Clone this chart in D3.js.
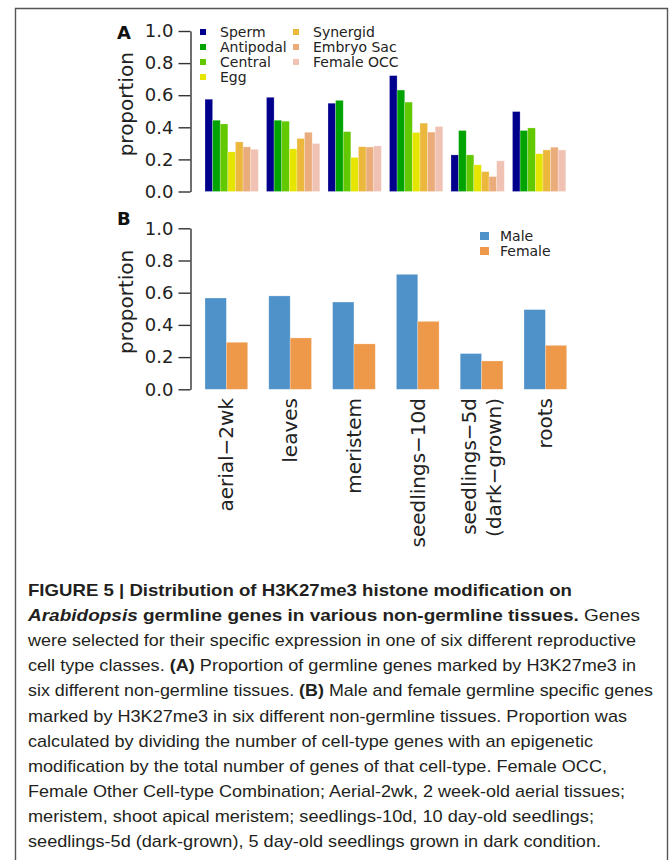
<!DOCTYPE html>
<html>
<head>
<meta charset="utf-8">
<script src="https://cdn.jsdelivr.net/npm/d3@7"></script>
<style>
  html, body { margin: 0; padding: 0; background: #fff; }
  svg { display: block; }
</style>
</head>
<body>
<script>
// ---------- DATA ----------
const tissues = ["aerial−2wk", "leaves", "meristem", "seedlings−10d", "seedlings−5d (dark−grown)", "roots"];
const tissueLabelLines = [["aerial−2wk"], ["leaves"], ["meristem"], ["seedlings−10d"], ["seedlings−5d", "(dark−grown)"], ["roots"]];

const cellTypes = ["Sperm", "Antipodal", "Central", "Egg", "Synergid", "Embryo Sac", "Female OCC"];
const sperm     = [0.575, 0.587, 0.550, 0.722, 0.228, 0.498];
const antipodal = [0.444, 0.444, 0.568, 0.632, 0.380, 0.380];
const central   = [0.421, 0.438, 0.373, 0.557, 0.228, 0.396];
const egg       = [0.247, 0.266, 0.212, 0.368, 0.166, 0.235];
const synergid  = [0.309, 0.330, 0.279, 0.426, 0.124, 0.259];
const embryoSac = [0.278, 0.369, 0.277, 0.370, 0.093, 0.276];
const femaleOCC = [0.263, 0.299, 0.284, 0.405, 0.191, 0.259];
const cellColors = ["#00008c", "#00a300", "#62c800", "#e5e500", "#ebb73c", "#eaac7a", "#f0c2b4"];

const sexes = ["Male", "Female"];
const male   = [0.567, 0.580, 0.542, 0.714, 0.222, 0.495];
const female = [0.292, 0.319, 0.282, 0.422, 0.176, 0.273];
const sexColors = ["#4f91c9", "#ee9949"];

const yTicks = [0.0, 0.2, 0.4, 0.6, 0.8, 1.0];
const yLabel = "proportion";

const captionLines = [
  [["FIGURE 5 | Distribution of H3K27me3 histone modification on", "b"]],
  [["Arabidopsis", "bi"], [" germline genes in various non-germline tissues.", "b"], [" Genes", "n"]],
  [["were selected for their specific expression in one of six different reproductive", "n"]],
  [["cell type classes. ", "n"], ["(A)", "b"], [" Proportion of germline genes marked by H3K27me3 in", "n"]],
  [["six different non-germline tissues. ", "n"], ["(B)", "b"], [" Male and female germline specific genes", "n"]],
  [["marked by H3K27me3 in six different non-germline tissues. Proportion was", "n"]],
  [["calculated by dividing the number of cell-type genes with an epigenetic", "n"]],
  [["modification by the total number of genes of that cell-type. Female OCC,", "n"]],
  [["Female Other Cell-type Combination; Aerial-2wk, 2 week-old aerial tissues;", "n"]],
  [["meristem, shoot apical meristem; seedlings-10d, 10 day-old seedlings;", "n"]],
  [["seedlings-5d (dark-grown), 5 day-old seedlings grown in dark condition.", "n"]]
];
const captionLineEnds = [572, 640, 636, 636, 653, 627, 593, 607, 625, 594, 601];

// ---------- DRAWING ----------
const W = 669, H = 860;
const svg = d3.select("body").append("svg").attr("width", W).attr("height", H);
const FONT = "'DejaVu Sans', sans-serif";
const ink = "#222";

// frame
svg.append("path")
  .attr("d", `M15.5,${H} V8.5 H667.5 V${H}`)
  .attr("fill", "none").attr("stroke", "#555").attr("stroke-width", 1.4);

const seriesA = [sperm, antipodal, central, egg, synergid, embryoSac, femaleOCC];
const seriesB = [male, female];

function drawPanel(cfg) {
  const g = svg.append("g");
  const y = d3.scaleLinear().domain([0, 1]).range([cfg.y0, cfg.y1]);
  const x = d3.scaleBand().domain(tissues).range([205, cfg.xEnd]).paddingInner(cfg.padInner).paddingOuter(0);
  const xs = d3.scaleBand().domain(cfg.keys).range([0, x.bandwidth()]).padding(0);

  // bars
  cfg.series.forEach((vals, si) => {
    g.append("g").selectAll("rect").data(vals).join("rect")
      .attr("x", (d, i) => x(tissues[i]) + xs(cfg.keys[si]))
      .attr("y", d => y(d))
      .attr("width", xs.bandwidth())
      .attr("height", d => y(0) - y(d))
      .attr("fill", cfg.colors[si])
      .attr("stroke", "#fff").attr("stroke-opacity", 0.35).attr("stroke-width", 0.7);
  });

  // y axis
  const axis = d3.axisLeft(y).tickValues(yTicks).tickFormat(d3.format(".1f")).tickSize(12).tickPadding(5).tickSizeOuter(0);
  const ag = g.append("g").attr("transform", "translate(190.5,0)").call(axis);
  ag.select(".domain").attr("stroke", "#333").attr("stroke-width", 1.4);
  ag.selectAll(".tick line").attr("stroke", "#333").attr("stroke-width", 1.4);
  ag.selectAll(".tick text").attr("font-family", FONT).attr("font-size", 18).attr("fill", ink);

  // y label
  g.append("text")
    .attr("transform", `translate(133,${(cfg.y0 + cfg.y1) / 2 - 7}) rotate(-90)`)
    .attr("text-anchor", "middle")
    .attr("font-family", FONT).attr("font-size", 20).attr("fill", ink)
    .text(yLabel);

  // panel letter
  g.append("text").attr("x", 117).attr("y", cfg.letterY)
    .attr("font-family", FONT).attr("font-weight", "bold").attr("font-size", 18).attr("fill", "#111")
    .text(cfg.letter);

  return { g, x, y };
}

// Panel A
const pA = drawPanel({
  y0: 191.5, y1: 31, xEnd: 565.8, padInner: 0.133,
  keys: cellTypes, series: seriesA, colors: cellColors, letter: "A", letterY: 38.5
});
// legend A
const legA = svg.append("g");
cellTypes.forEach((c, i) => {
  const col = i < 4 ? 0 : 1;
  const row = i < 4 ? i : i - 4;
  const mx = col === 0 ? 200 : 293;
  const cy = 32 + row * 15;
  legA.append("rect").attr("x", mx).attr("y", cy - 3).attr("width", 6).attr("height", 6).attr("fill", cellColors[i]);
  legA.append("text").attr("x", mx + 20).attr("y", cy + 5)
    .attr("font-family", FONT).attr("font-size", 14).attr("fill", ink).text(c);
});

// Panel B
const pB = drawPanel({
  y0: 389.3, y1: 228.3, xEnd: 566.7, padInner: 0.331,
  keys: sexes, series: seriesB, colors: sexColors, letter: "B", letterY: 225
});
// legend B
const legB = svg.append("g");
sexes.forEach((s, i) => {
  const cy = 236 + i * 15;
  legB.append("rect").attr("x", 480).attr("y", cy - 4).attr("width", 9).attr("height", 8).attr("fill", sexColors[i]);
  legB.append("text").attr("x", 500).attr("y", cy + 5)
    .attr("font-family", FONT).attr("font-size", 14).attr("fill", ink).text(s);
});

// x tick labels (panel B)
const xl = svg.append("g");
tissues.forEach((t, i) => {
  const cx = pB.x(t) + pB.x.bandwidth() / 2;
  const lines = tissueLabelLines[i];
  const n = lines.length;
  lines.forEach((ln, j) => {
    const off = (j - (n - 1) / 2) * 25;
    xl.append("text")
      .attr("transform", `translate(${cx + off},398) rotate(-90)`)
      .attr("text-anchor", "end")
      .attr("dy", "0.35em")
      .attr("font-family", FONT).attr("font-size", 20).attr("fill", ink)
      .text(ln);
  });
});

// caption
const cap = svg.append("g");
captionLines.forEach((segs, i) => {
  const t = cap.append("text")
    .attr("x", 28).attr("y", 596 + i * 25.1)
    .attr("font-family", "'Liberation Sans Narrow', 'Liberation Sans', Arial, sans-serif")
    .attr("font-size", 17).attr("fill", "#231f20")
    .attr("textLength", captionLineEnds[i] - 28)
    .attr("lengthAdjust", "spacingAndGlyphs");
  segs.forEach(([txt, st]) => {
    const ts = t.append("tspan").text(txt);
    if (st.includes("b")) ts.attr("font-weight", "bold");
    if (st.includes("i")) ts.attr("font-style", "italic");
  });
});
</script>
</body>
</html>
